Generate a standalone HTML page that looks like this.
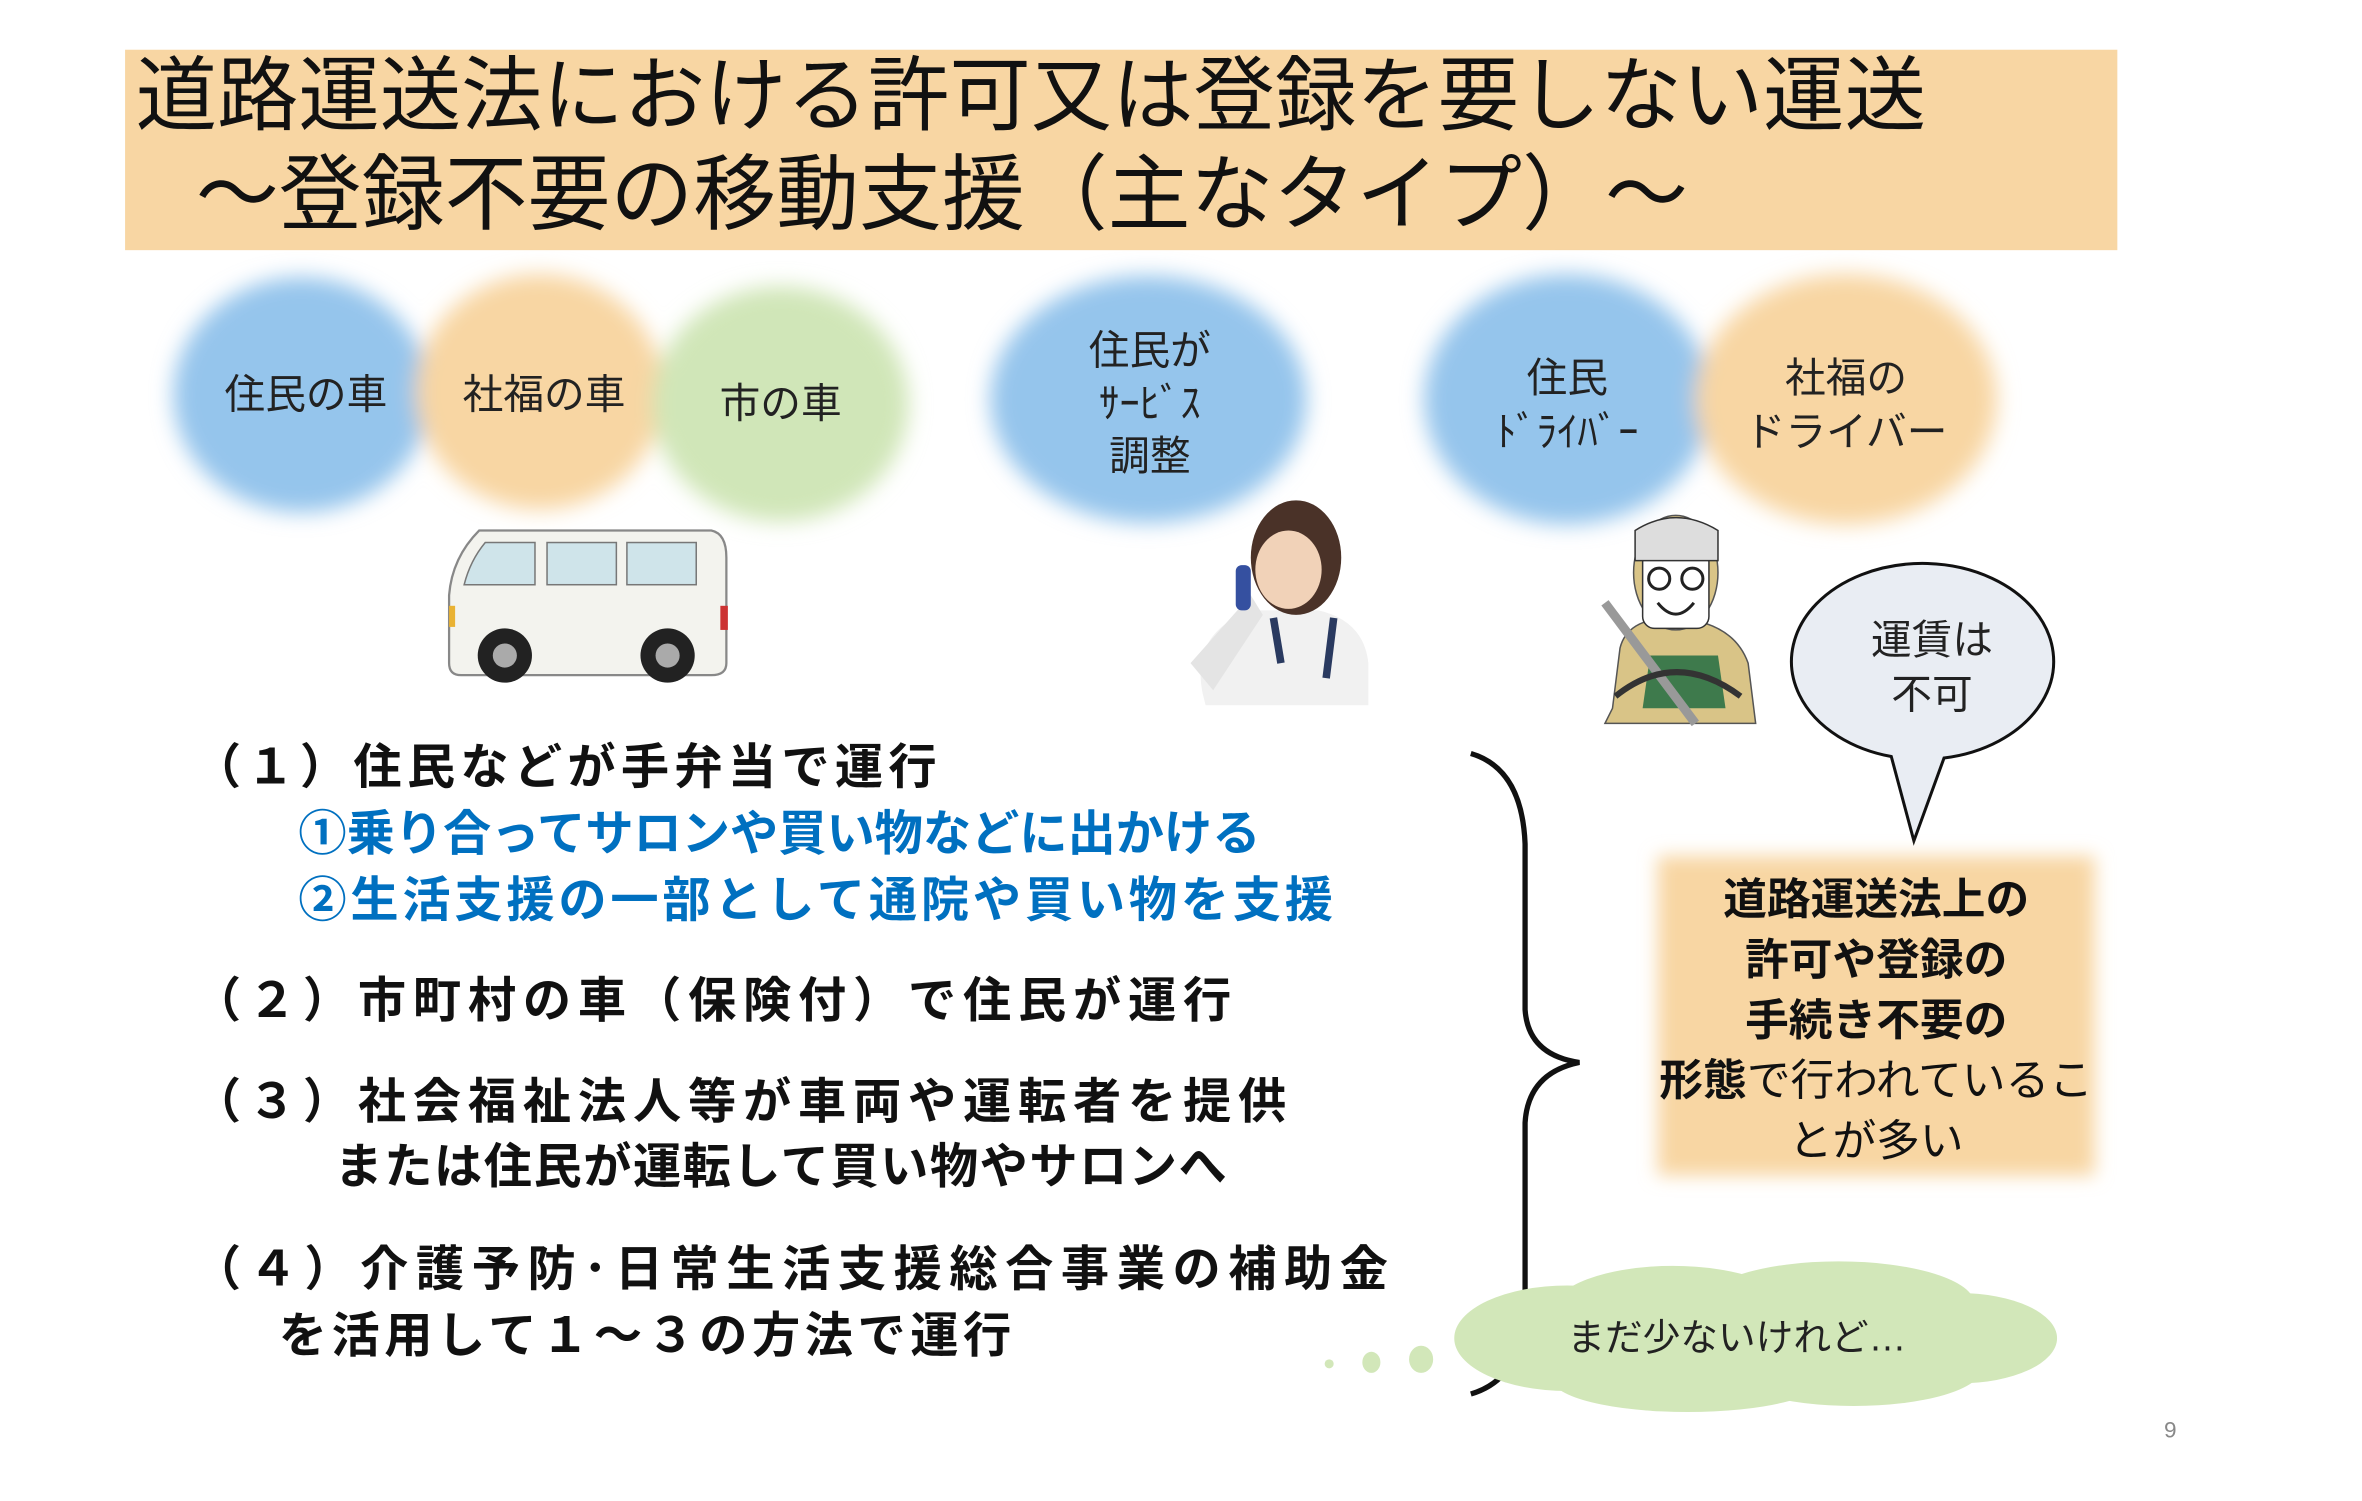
<!DOCTYPE html>
<html><head><meta charset="utf-8">
<style>
html,body{margin:0;padding:0;background:#fff;}
body{width:2362px;height:1500px;overflow:hidden;position:relative;}
#s{position:absolute;left:0;top:0;width:1570px;height:996px;transform:scale(1.507);transform-origin:0 0;font-family:"Liberation Sans","Noto Sans CJK JP",sans-serif;}
.t{position:absolute;white-space:nowrap;line-height:1;}
.b{font-weight:bold;font-size:32px;color:#111;}
.bl{color:#0070C0;}
.c{position:absolute;text-align:center;font-size:27px;color:#222;line-height:1.25;}
</style></head><body>
<div id="s">
<svg width="1570" height="996" style="position:absolute;left:0;top:0">
<defs>
<filter id="bl" x="-30%" y="-30%" width="160%" height="160%"><feGaussianBlur stdDeviation="7"/></filter>
<filter id="bl2" x="-30%" y="-30%" width="160%" height="160%"><feGaussianBlur stdDeviation="6"/></filter>
</defs>
<rect x="83" y="33" width="1322" height="133" fill="#F8D6A3"/>
<g filter="url(#bl)">
<ellipse cx="200" cy="262" rx="85" ry="78" fill="#95C5EC"/>
<ellipse cx="358" cy="260" rx="82" ry="78" fill="#F8D6A3"/>
<ellipse cx="518" cy="268" rx="85" ry="78" fill="#D0E6B8"/>
<ellipse cx="762" cy="265" rx="105" ry="82" fill="#95C5EC"/>
<ellipse cx="1040" cy="265" rx="95" ry="83" fill="#95C5EC"/>
<ellipse cx="1225" cy="265" rx="100" ry="83" fill="#F8D6A3"/>
</g>
<g>
<path d="M318 352 L472 352 Q482 354 482 370 L482 440 Q482 448 472 448 L306 448 Q298 448 298 440 L298 395 Q300 370 318 352 Z" fill="#F3F3EE" stroke="#888" stroke-width="1.5"/>
<path d="M322 360 L355 360 L355 388 L308 388 Q312 372 322 360Z" fill="#CFE4EA" stroke="#777"/>
<rect x="363" y="360" width="46" height="28" fill="#CFE4EA" stroke="#777"/>
<rect x="416" y="360" width="46" height="28" fill="#CFE4EA" stroke="#777"/>
<rect x="478" y="402" width="5" height="16" fill="#c33"/>
<rect x="298" y="402" width="4" height="14" fill="#e9b233"/>
<circle cx="335" cy="435" r="18" fill="#222"/><circle cx="335" cy="435" r="8" fill="#aaa"/>
<circle cx="443" cy="435" r="18" fill="#222"/><circle cx="443" cy="435" r="8" fill="#aaa"/>
</g>
<g>
<path d="M798 460 Q790 420 830 405 L875 405 Q905 412 908 440 L908 468 L800 468Z" fill="#F1F1F1"/>
<path d="M790 440 L830 395 L838 408 L805 458Z" fill="#E4E4E4"/>
<path d="M845 410 L850 440 M885 410 L880 450" stroke="#2a3a60" stroke-width="5"/>
<ellipse cx="860" cy="370" rx="30" ry="38" fill="#4A3228"/>
<ellipse cx="855" cy="378" rx="22" ry="26" fill="#F1D2B8"/>
<rect x="820" y="375" width="10" height="30" rx="4" fill="#3550A0"/>
</g>
<g>
<path d="M1070 470 L1075 430 Q1080 410 1110 410 Q1150 412 1160 440 L1165 480 L1065 480Z" fill="#D9C487" stroke="#555"/>
<path d="M1090 470 L1095 435 L1140 435 L1145 470Z" fill="#3E7A4C"/>
<ellipse cx="1112" cy="380" rx="28" ry="38" fill="#D9C487" stroke="#555"/>
<rect x="1090" y="365" width="44" height="52" rx="8" fill="#fff" stroke="#333"/>
<path d="M1085 352 Q1112 335 1140 352 L1140 372 L1085 372Z" fill="#ddd" stroke="#333"/>
<circle cx="1101" cy="384" r="7" fill="none" stroke="#222" stroke-width="2"/>
<circle cx="1123" cy="384" r="7" fill="none" stroke="#222" stroke-width="2"/>
<path d="M1100 400 Q1112 415 1124 400" fill="none" stroke="#222" stroke-width="2"/>
<path d="M1065 400 L1125 480" stroke="#999" stroke-width="6"/>
<path d="M1072 462 Q1112 430 1155 462" fill="none" stroke="#333" stroke-width="4"/>
</g>
<path d="M1255 502 A87 65 0 1 1 1290 503 L1270 558 Z" fill="#E9EDF3" stroke="#111" stroke-width="2"/>
<path d="M976 500 Q1010 510 1012 560 L1012 670 Q1014 700 1048 705 Q1014 712 1012 745 L1012 870 Q1010 915 976 925" fill="none" stroke="#111" stroke-width="3.5"/>
<rect x="1100" y="568" width="290" height="212" fill="#F8D6A3" filter="url(#bl2)"/>
<g fill="#D2E7B9">
<ellipse cx="1040" cy="888" rx="75" ry="35"/>
<ellipse cx="1110" cy="870" rx="80" ry="30"/>
<ellipse cx="1220" cy="865" rx="90" ry="28"/>
<ellipse cx="1300" cy="888" rx="65" ry="30"/>
<ellipse cx="1230" cy="908" rx="85" ry="25"/>
<ellipse cx="1120" cy="915" rx="90" ry="22"/>
<ellipse cx="1160" cy="890" rx="140" ry="35"/>
</g>
<ellipse cx="882" cy="905" rx="3" ry="3" fill="#D2E7B9"/>
<ellipse cx="910" cy="904" rx="6" ry="7" fill="#D2E7B9"/>
<ellipse cx="943" cy="902" rx="8" ry="9" fill="#D2E7B9"/>
</svg>

<div class="t" style="left:90px;top:37px;font-size:54px;color:#111">道路運送法における許可又は登録を要しない運送</div>
<div class="t" style="left:130px;top:102px;font-size:55px;color:#111">～登録不要の移動支援（主なタイプ）～</div>

<div class="c" style="left:120px;top:246px;width:166px">住民の車</div>
<div class="c" style="left:278px;top:246px;width:166px">社福の車</div>
<div class="c" style="left:435px;top:252px;width:166px">市の車</div>
<div class="c" style="left:700px;top:216px;width:126px;line-height:35px">住民が<br>ｻｰﾋﾞｽ<br>調整</div>
<div class="c" style="left:960px;top:233px;width:160px;line-height:36px">住民<br>ﾄﾞﾗｲﾊﾞｰ</div>
<div class="c" style="left:1145px;top:233px;width:160px;line-height:36px">社福の<br>ドライバー</div>
<div class="c" style="left:1200px;top:407px;width:164px;line-height:36px">運賃は<br>不可</div>

<div class="t b" style="left:128px;top:493px;letter-spacing:3.5px">（１）住民などが手弁当で運行</div>
<div class="t b bl" style="left:198px;top:537px">①乗り合ってサロンや買い物などに出かける</div>
<div class="t b bl" style="left:198px;top:581px;letter-spacing:2.5px">②生活支援の一部として通院や買い物を支援</div>
<div class="t b" style="left:128px;top:648px;letter-spacing:4.5px">（２）市町村の車（保険付）で住民が運行</div>
<div class="t b" style="left:128px;top:715px;letter-spacing:4.5px">（３）社会福祉法人等が車両や運転者を提供</div>
<div class="t b" style="left:222px;top:758px;letter-spacing:1px">または住民が運転して買い物やサロンへ</div>
<div class="t b" style="left:128px;top:826px;letter-spacing:5px">（４）介護予防･日常生活支援総合事業の補助金</div>
<div class="t b" style="left:185px;top:870px;letter-spacing:3px">を活用して１～３の方法で運行</div>

<div class="c" style="left:1095px;top:578px;width:300px;font-size:29px;line-height:40px;color:#111"><b>道路運送法上の<br>許可や登録の<br>手続き不要の<br>形態</b>で行われているこ<br>とが多い</div>

<div class="t" style="left:1040px;top:876px;font-size:25px;color:#222">まだ少ないけれど…</div>
<div class="t" style="left:1436px;top:942px;font-size:15px;color:#888">9</div>
</div>
</body></html>
